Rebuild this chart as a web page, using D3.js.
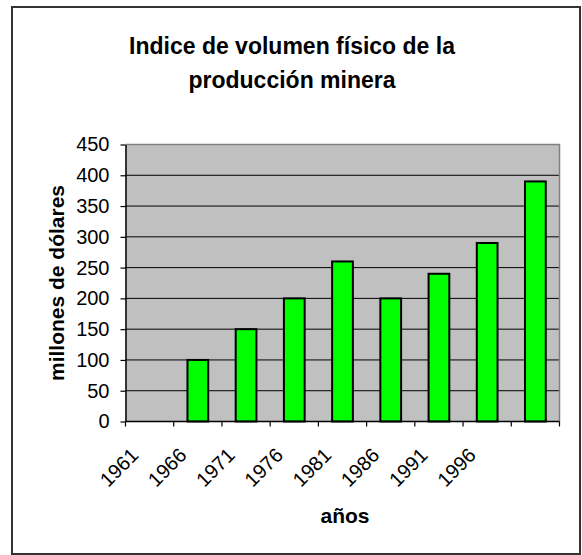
<!DOCTYPE html>
<html>
<head>
<meta charset="utf-8">
<script src="https://cdn.jsdelivr.net/npm/d3@7"></script>
<style>
  body { margin: 0; background: #fff; }
  text { font-family: "Liberation Sans", Arial, sans-serif; }
</style>
</head>
<body>
<div id="chart"></div>
<script>
// data
const categories = ["c1", "c2", "c3", "c4", "c5", "c6", "c7", "c8", "c9"];
const yearLabels = ["1961", "1966", "1971", "1976", "1981", "1986", "1991", "1996", ""];
const values = [null, 100, 150, 200, 260, 200, 240, 290, 390];
const yTicks = [0, 50, 100, 150, 200, 250, 300, 350, 400, 450];
const titleLines = ["Indice de volumen físico de la", "producción minera"];

const width = 582, height = 555;
const plot = { left: 125.5, right: 559.5, top: 144.5, bottom: 421.5 };

const svg = d3.select("#chart")
  .append("svg")
  .attr("width", width)
  .attr("height", height);

// outer frame
svg.append("rect")
  .attr("x", 12).attr("y", 7)
  .attr("width", 568).attr("height", 547)
  .attr("fill", "#fff")
  .attr("stroke", "#333")
  .attr("stroke-width", 2);

const x = d3.scaleBand()
  .domain(categories)
  .range([plot.left, plot.right]);

const y = d3.scaleLinear()
  .domain([0, 450])
  .range([plot.bottom, plot.top]);

// plot area
svg.append("rect")
  .attr("x", plot.left).attr("y", plot.top)
  .attr("width", plot.right - plot.left)
  .attr("height", plot.bottom - plot.top)
  .attr("fill", "#c0c0c0");

// gridlines
svg.append("g")
  .selectAll("line")
  .data(yTicks.filter(d => d > 0 && d < 450))
  .join("line")
  .attr("x1", plot.left).attr("x2", plot.right)
  .attr("y1", d => y(d)).attr("y2", d => y(d))
  .attr("stroke", "#000")
  .attr("stroke-width", 1);

// top and right border of plot area
svg.append("path")
  .attr("d", `M${plot.left},${plot.top}H${plot.right}V${plot.bottom}`)
  .attr("fill", "none")
  .attr("stroke", "#808080")
  .attr("stroke-width", 1.5);

// bars
const barW = x.bandwidth() * 0.43;
svg.append("g")
  .selectAll("rect")
  .data(values.map((v, i) => ({ key: categories[i], v: v })).filter(d => d.v != null))
  .join("rect")
  .attr("x", d => x(d.key) + (x.bandwidth() - barW) / 2)
  .attr("y", d => y(d.v))
  .attr("width", barW)
  .attr("height", d => y(0) - y(d.v))
  .attr("fill", "#00ff00")
  .attr("stroke", "#000")
  .attr("stroke-width", 2);

// y axis
const yAxis = svg.append("g")
  .attr("transform", `translate(${plot.left},0)`)
  .call(d3.axisLeft(y).tickValues(yTicks).tickSize(5).tickPadding(11).tickSizeOuter(0));
yAxis.select(".domain").attr("stroke", "#000").attr("stroke-width", 1.5);
yAxis.selectAll(".tick line").attr("stroke", "#000").attr("stroke-width", 1.2);
yAxis.selectAll(".tick text")
  .attr("font-size", 20)
  .attr("fill", "#000")
  .attr("font-family", "Liberation Sans, Arial, sans-serif");

// x axis line and ticks at category borders
svg.append("line")
  .attr("x1", plot.left).attr("x2", plot.right)
  .attr("y1", plot.bottom).attr("y2", plot.bottom)
  .attr("stroke", "#000").attr("stroke-width", 1.5);

const borders = categories.map(c => x(c)).concat([x(categories[categories.length - 1]) + x.bandwidth()]);
svg.append("g")
  .selectAll("line")
  .data(borders)
  .join("line")
  .attr("x1", d => d).attr("x2", d => d)
  .attr("y1", plot.bottom).attr("y2", plot.bottom + 5)
  .attr("stroke", "#000").attr("stroke-width", 1.2);

// rotated year labels
svg.append("g")
  .selectAll("text")
  .data(categories)
  .join("text")
  .attr("transform", d => `translate(${x(d) + x.bandwidth() / 2 - 10},${plot.bottom + 35}) rotate(-45)`)
  .attr("text-anchor", "end")
  .attr("font-size", 20)
  .attr("fill", "#000")
  .text((d, i) => yearLabels[i]);

// title
svg.append("g")
  .selectAll("text")
  .data(titleLines)
  .join("text")
  .attr("x", 292)
  .attr("y", (d, i) => 54 + i * 34)
  .attr("text-anchor", "middle")
  .attr("font-size", 23)
  .attr("font-weight", "bold")
  .text(d => d);

// axis titles
svg.append("text")
  .attr("transform", `translate(64,${(plot.top + plot.bottom) / 2}) rotate(-90)`)
  .attr("text-anchor", "middle")
  .attr("font-size", 21)
  .attr("font-weight", "bold")
  .text("millones de dólares");

svg.append("text")
  .attr("x", 345)
  .attr("y", 523)
  .attr("text-anchor", "middle")
  .attr("font-size", 21)
  .attr("font-weight", "bold")
  .text("años");
</script>
</body>
</html>
